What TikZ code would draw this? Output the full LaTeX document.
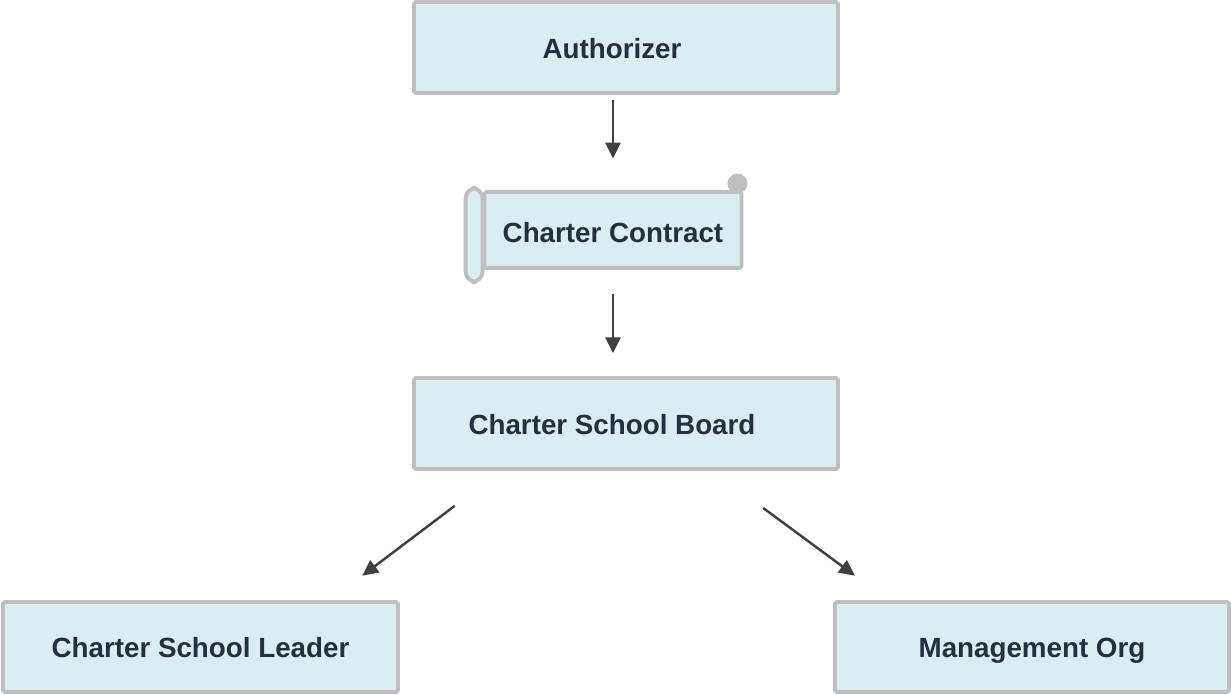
\documentclass[tikz,border=0pt]{standalone}
\usepackage{fontspec}
\setmainfont{Liberation Sans}
\usetikzlibrary{positioning,arrows.meta,calc}
\definecolor{boxfill}{RGB}{219,237,243}
\definecolor{boxline}{RGB}{191,191,191}
\definecolor{boxtext}{RGB}{34,48,63}
\definecolor{arrowgray}{RGB}{64,64,64}

\begin{document}
\begin{tikzpicture}[x=0.02cm, y=-0.02cm,
  box/.style={rectangle, rounded corners=1pt, draw=boxline, fill=boxfill, line width=2.2pt, text=boxtext, font=\fontsize{15.8}{19}\selectfont\bfseries, text height=15.6pt, text depth=3.2pt, minimum width=8.48cm, minimum height=1.82cm},
  roll/.style={draw=boxline, fill=boxfill, line width=2.2pt},
  arr/.style={draw=arrowgray, line width=1.4pt, -{Triangle[length=9pt,width=8.5pt]}}]
\useasboundingbox (0,0) rectangle (1231,694);
\node[box] (auth) at (626,47.5) {\hspace*{-0.56cm}Authorizer};
% scroll for the contract
\node[box, minimum width=5.14cm, minimum height=1.52cm, text height=17pt] (contract) at (613,230) {Charter Contract};
\draw[roll, rounded corners=6pt] ([xshift=-0.34cm, yshift=0.04cm]contract.north west) rectangle ([yshift=-0.24cm]contract.south west);
\draw[roll, fill=boxline] ([xshift=-0.12cm, yshift=0.13cm]contract.north east) circle (0.16cm);
\node[box] (board) at (626,423.5) {\hspace*{-0.56cm}Charter School Board};
\node[box, minimum width=7.9cm, minimum height=1.8cm] (leader) at (200.5,647) {Charter School Leader};
\node[box, minimum width=7.88cm, minimum height=1.8cm] (mgmt) at (1032,647) {Management Org};
% arrows
\draw[arr, shorten <=3pt, shorten >=18pt] (auth.south -| contract.north) -- (contract.north);
\draw[arr, shorten <=13.5pt, shorten >=13pt] (contract.south) -- (contract.south |- board.north);
\draw[arr, shorten <=33pt, shorten >=23pt] ([xshift=-2.5cm]board.south) -- ([xshift=2.59cm]leader.north);
\draw[arr, shorten <=35.5pt, shorten >=23.4pt] ([xshift=1.74cm]board.south) -- ([xshift=-2.88cm]mgmt.north);
\end{tikzpicture}
\end{document}
